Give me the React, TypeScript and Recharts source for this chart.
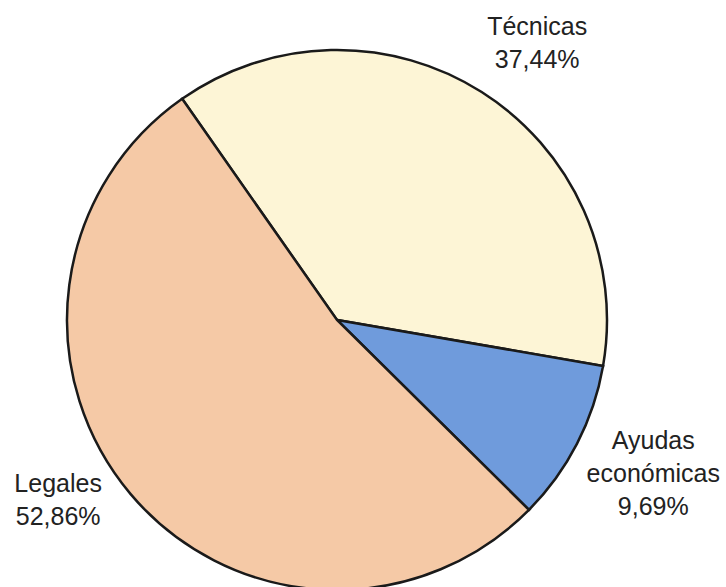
import React from "react";
import { PieChart, Pie, Cell } from "recharts";

// shares in percent
const categories = ["Técnicas", "Ayudas económicas", "Legales"];
const shares = [37.44, 9.69, 52.86];
const labelLines = [
  ["Técnicas", "37,44%"],
  ["Ayudas", "económicas", "9,69%"],
  ["Legales", "52,86%"],
];
const colors = ["#FDF5D6", "#6F9BDC", "#F5C9A6"];

// small nudges so each label sits where the original put it
const nudges = [
  [18, 10],
  [14, -3],
  [-19, -40],
];

const data = categories.map((name, i) => ({ name, value: shares[i] }));

const RADIAN = Math.PI / 180;
const LINE_H = 33;

function renderLabel(props: any) {
  const { cx, cy, midAngle, outerRadius, index } = props;
  const r = outerRadius + 70;
  const x = cx + r * Math.cos(-midAngle * RADIAN) + nudges[index][0];
  const y = cy + r * Math.sin(-midAngle * RADIAN) + nudges[index][1];
  const lines = labelLines[index];
  const first = y - ((lines.length - 1) * LINE_H) / 2 + 9;
  return (
    <text
      key={`lbl-${index}`}
      x={x}
      y={first}
      textAnchor="middle"
      fill="#222"
      fontSize={25}
      fontFamily="'Liberation Sans', Arial, sans-serif"
    >
      {lines.map((t, j) => (
        <tspan key={j} x={x} y={first + j * LINE_H}>
          {t}
        </tspan>
      ))}
    </text>
  );
}

export default function App() {
  return (
    <div
      style={{
        position: "absolute",
        left: 0,
        top: 0,
        width: 726,
        height: 587,
        background: "#fff",
      }}
    >
      <PieChart width={726} height={587} margin={{ top: 0, right: 0, bottom: 0, left: 0 }}>
        <Pie
          data={data}
          dataKey="value"
          nameKey="name"
          cx={337}
          cy={320}
          outerRadius={270}
          startAngle={125}
          endAngle={-235}
          stroke="#1a1a1a"
          strokeWidth={2.5}
          label={renderLabel}
          labelLine={false}
          isAnimationActive={false}
        >
          {data.map((d, i) => (
            <Cell key={d.name} fill={colors[i]} />
          ))}
        </Pie>
      </PieChart>
    </div>
  );
}
